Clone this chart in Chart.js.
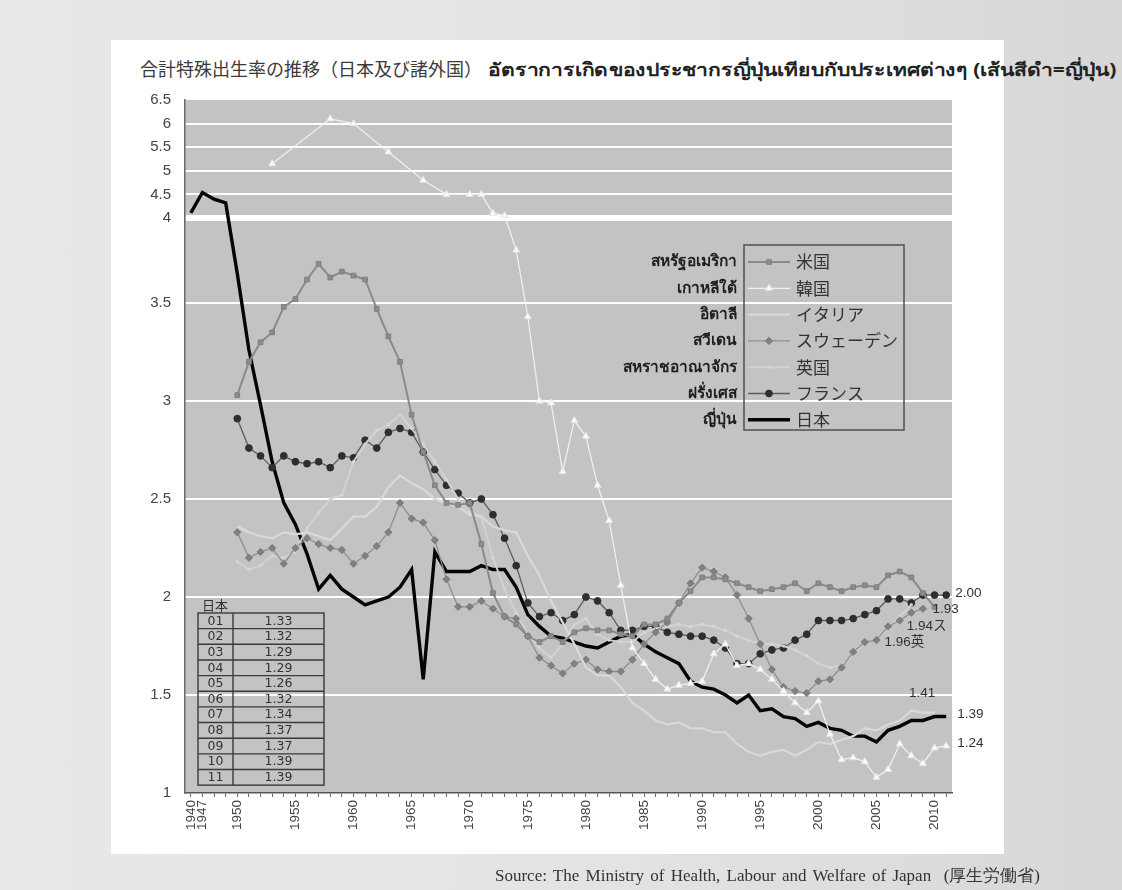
<!DOCTYPE html>
<html lang="ja">
<head>
<meta charset="utf-8">
<title>合計特殊出生率の推移（日本及び諸外国）</title>
<script src="https://cdn.jsdelivr.net/npm/chart.js@4.4.1/dist/chart.umd.min.js"></script>
<style>
  html, body { margin: 0; padding: 0; }
  body {
    width: 1122px; height: 890px; overflow: hidden; position: relative;
    background: linear-gradient(90deg, #e8e8e8 0%, #e3e3e3 55%, #d7d7d7 100%);
    font-family: "Liberation Sans", "Noto Sans", sans-serif;
  }
  .panel { position: absolute; left: 111px; top: 40px; width: 893px; height: 814px; background: #fff; }
  .title { position: absolute; left: 140px; top: 56px; white-space: nowrap; line-height: 24px; }
  .title .ja { font-family: "Noto Sans CJK JP", sans-serif; font-size: 18px; color: #3a3a3a; }
  .title .th { display: inline-block; font-family: "Noto Sans", "DejaVu Sans", sans-serif; font-size: 18px;
    font-weight: bold; color: #222; margin-left: 6px; transform: scaleX(1.17); transform-origin: left center; }
  .source { position: absolute; left: 495px; top: 864px; white-space: nowrap; word-spacing: 2px;
    font-family: "Liberation Serif", serif; font-size: 17px; color: #333; }
  canvas { position: absolute; left: 0; top: 0; }
</style>
</head>
<body>
<div class="panel"></div>
<div class="title"><span class="ja">合計特殊出生率の推移（日本及び諸外国）</span><span class="th">อัตราการเกิดของประชากรญี่ปุ่นเทียบกับประเทศต่างๆ (เส้นสีดำ=ญี่ปุ่น)</span></div>
<canvas id="tfr" width="1122" height="890"></canvas>
<div class="source">Source: The Ministry of Health, Labour and Welfare of Japan &nbsp;(厚生労働省)</div>

<script>
'use strict';

// ---- data ------------------------------------------------------------------

const years = [
  '1940', '1947', '1948', '1949',
  '1950', '1951', '1952', '1953', '1954', '1955', '1956', '1957', '1958', '1959',
  '1960', '1961', '1962', '1963', '1964', '1965', '1966', '1967', '1968', '1969',
  '1970', '1971', '1972', '1973', '1974', '1975', '1976', '1977', '1978', '1979',
  '1980', '1981', '1982', '1983', '1984', '1985', '1986', '1987', '1988', '1989',
  '1990', '1991', '1992', '1993', '1994', '1995', '1996', '1997', '1998', '1999',
  '2000', '2001', '2002', '2003', '2004', '2005', '2006', '2007', '2008', '2009',
  '2010', '2011',
];
const shownYears = ['1940', '1947', '1950', '1955', '1960', '1965', '1970', '1975',
  '1980', '1985', '1990', '1995', '2000', '2005', '2010'];
const yTicks = [1, 1.5, 2, 2.5, 3, 3.5, 4, 4.5, 5, 5.5, 6, 6.5];

const usa = [null, null, null, null,
  3.03, 3.20, 3.30, 3.35, 3.48, 3.52, 3.62, 3.70, 3.63, 3.66,
  3.64, 3.62, 3.47, 3.33, 3.20, 2.93, 2.74, 2.57, 2.48, 2.47,
  2.48, 2.27, 2.02, 1.90, 1.86, 1.80, 1.77, 1.80, 1.77, 1.82,
  1.84, 1.83, 1.83, 1.81, 1.80, 1.86, 1.86, 1.89, 1.97, 2.03,
  2.10, 2.10, 2.09, 2.07, 2.05, 2.03, 2.04, 2.05, 2.07, 2.03,
  2.07, 2.05, 2.03, 2.05, 2.06, 2.05, 2.11, 2.13, 2.10, 2.02,
  1.95, null];
const korea = [null, null, null, null,
  null, null, null, 5.15, null, null, null, null, 6.10, null,
  6.00, null, null, 5.40, null, null, 4.80, null, 4.50, null,
  4.50, 4.50, 4.10, 4.05, 3.77, 3.43, 3.00, 2.99, 2.64, 2.90,
  2.82, 2.57, 2.39, 2.06, 1.74, 1.66, 1.58, 1.53, 1.55, 1.56,
  1.57, 1.71, 1.76, 1.65, 1.66, 1.63, 1.58, 1.52, 1.46, 1.41,
  1.47, 1.30, 1.17, 1.18, 1.16, 1.08, 1.12, 1.25, 1.19, 1.15,
  1.23, 1.24];
const italy = [null, null, null, null,
  2.36, 2.33, 2.31, 2.30, 2.33, 2.32, 2.33, 2.31, 2.29, 2.35,
  2.41, 2.41, 2.46, 2.56, 2.62, 2.58, 2.55, 2.50, 2.48, 2.46,
  2.42, 2.41, 2.36, 2.34, 2.33, 2.21, 2.11, 1.98, 1.87, 1.76,
  1.64, 1.60, 1.60, 1.54, 1.46, 1.42, 1.37, 1.35, 1.36, 1.33,
  1.33, 1.31, 1.31, 1.25, 1.21, 1.19, 1.21, 1.22, 1.19, 1.22,
  1.26, 1.25, 1.27, 1.29, 1.33, 1.32, 1.35, 1.37, 1.42, 1.41,
  1.41, null];
const sweden = [null, null, null, null,
  2.33, 2.20, 2.23, 2.25, 2.17, 2.25, 2.30, 2.27, 2.25, 2.24,
  2.17, 2.21, 2.26, 2.33, 2.48, 2.40, 2.38, 2.29, 2.09, 1.95,
  1.95, 1.98, 1.94, 1.90, 1.89, 1.80, 1.69, 1.65, 1.61, 1.66,
  1.68, 1.63, 1.62, 1.62, 1.68, 1.76, 1.82, 1.87, 1.97, 2.07,
  2.15, 2.13, 2.10, 2.01, 1.89, 1.76, 1.63, 1.54, 1.52, 1.51,
  1.57, 1.58, 1.64, 1.72, 1.77, 1.78, 1.85, 1.88, 1.92, 1.94,
  null, null];
const uk = [null, null, null, null,
  2.18, 2.14, 2.16, 2.21, 2.20, 2.23, 2.35, 2.43, 2.50, 2.52,
  2.69, 2.78, 2.85, 2.88, 2.93, 2.86, 2.78, 2.69, 2.60, 2.50,
  2.43, 2.41, 2.20, 2.04, 1.92, 1.81, 1.74, 1.69, 1.76, 1.86,
  1.89, 1.81, 1.78, 1.77, 1.77, 1.82, 1.84, 1.85, 1.86, 1.85,
  1.86, 1.85, 1.83, 1.80, 1.78, 1.76, 1.76, 1.75, 1.73, 1.70,
  1.66, 1.64, 1.65, 1.71, 1.77, 1.78, 1.84, 1.90, 1.96, null,
  null, null];
const france = [null, null, null, null,
  2.91, 2.76, 2.72, 2.66, 2.72, 2.69, 2.68, 2.69, 2.66, 2.72,
  2.71, 2.80, 2.76, 2.84, 2.86, 2.84, 2.74, 2.65, 2.57, 2.53,
  2.48, 2.50, 2.42, 2.30, 2.16, 1.97, 1.90, 1.92, 1.88, 1.91,
  2.00, 1.98, 1.92, 1.83, 1.83, 1.85, 1.85, 1.82, 1.81, 1.80,
  1.80, 1.78, 1.74, 1.66, 1.66, 1.71, 1.73, 1.74, 1.78, 1.81,
  1.88, 1.88, 1.88, 1.89, 1.91, 1.93, 1.99, 1.99, 1.97, 2.01,
  2.01, 2.01];
const japan = [4.11, 4.54, 4.40, 4.32,
  3.65, 3.26, 2.98, 2.69, 2.48, 2.37, 2.22, 2.04, 2.11, 2.04,
  2.00, 1.96, 1.98, 2.00, 2.05, 2.14, 1.58, 2.23, 2.13, 2.13,
  2.13, 2.16, 2.14, 2.14, 2.05, 1.91, 1.85, 1.80, 1.79, 1.77,
  1.75, 1.74, 1.77, 1.80, 1.81, 1.76, 1.72, 1.69, 1.66, 1.57,
  1.54, 1.53, 1.50, 1.46, 1.50, 1.42, 1.43, 1.39, 1.38, 1.34,
  1.36, 1.33, 1.32, 1.29, 1.29, 1.26, 1.32, 1.34, 1.37, 1.37,
  1.39, 1.39];

const seriesNames = ['米国', '韓国', 'イタリア', 'スウェーデン', '英国', 'フランス', '日本'];
const seriesThai = ['สหรัฐอเมริกา', 'เกาหลีใต้', 'อิตาลี', 'สวีเดน', 'สหราชอาณาจักร', 'ฝรั่งเศส', 'ญี่ปุ่น'];

// small table of recent Japanese values (bottom-left box)
const tableTitle = '日本';
const tableYears = ['01', '02', '03', '04', '05', '06', '07', '08', '09', '10', '11'];
const tableValues = ['1.33', '1.32', '1.29', '1.29', '1.26', '1.32', '1.34', '1.37', '1.37', '1.39', '1.39'];

// value notes near the right end; anchored on (year, value) + a small x shift
const endNotes = [
  { text: '2.00', year: '2011', value: 2.02, dx: 9 },
  { text: '1.93', year: '2010', value: 1.935, dx: -2 },
  { text: '1.94ス', year: '2007', value: 1.85, dx: 7 },
  { text: '1.96英', year: '2005', value: 1.77, dx: 8 },
  { text: '1.41', year: '2009', value: 1.51, dx: -14 },
  { text: '1.39', year: '2011', value: 1.40, dx: 11 },
  { text: '1.24', year: '2011', value: 1.255, dx: 11 },
];

// ---- broken value axis -----------------------------------------------------
// 1..4 uses most of the height, 4..6.5 is squeezed into the top band.

const LOWER_PER_UNIT = 196 / 693;
const UPPER_BASE = 575 / 693;
const UPPER_PER_UNIT = 47.2 / 693;

function axisFraction(v) {
  if (v < 3.95) return (v - 1) * LOWER_PER_UNIT;
  return UPPER_BASE + (v - 4) * UPPER_PER_UNIT;
}

function fractionToValue(f) {
  if (f < UPPER_BASE) return 1 + f / LOWER_PER_UNIT;
  return 4 + (f - UPPER_BASE) / UPPER_PER_UNIT;
}

class BrokenLinearScale extends Chart.LinearScale {
  getPixelForValue(value) {
    if (value === null || value === undefined || isNaN(value)) return NaN;
    return this.getPixelForDecimal(axisFraction(value));
  }
  getValueForPixel(pixel) {
    return fractionToValue(this.getDecimalForPixel(pixel));
  }
}
BrokenLinearScale.id = 'brokenLinear';
BrokenLinearScale.defaults = { ...Chart.LinearScale.defaults };
Chart.register(BrokenLinearScale);

// ---- styles ----------------------------------------------------------------

const PLOT_BG = '#c3c3c3';
const LEGEND = { left: 744, top: 245, width: 160, height: 185, firstRow: 262, rowGap: 26.3 };
const TABLE = { left: 198, top: 613, right: 324, split: 233, rowH: 15.65 };

/**
 * Build one line dataset.
 * @param {string} label
 * @param {Array<number|null>} data
 * @param {Object} style
 * @returns {Object}
 */
function lineSet(label, data, style) {
  return {
    label,
    data,
    tension: 0,
    spanGaps: true,
    borderColor: style.line,
    borderWidth: style.width,
    pointStyle: style.point || 'circle',
    pointRadius: style.radius || 0,
    pointBackgroundColor: style.fill || style.line,
    pointBorderColor: style.edge || style.fill || style.line,
    pointBorderWidth: 1,
    pointHoverRadius: 0,
  };
}

const datasets = [
  lineSet(seriesNames[0], usa, { line: '#8a8a8a', width: 2, point: 'rect', radius: 3.3, fill: '#8c8c8c', edge: '#7e7e7e' }),
  lineSet(seriesNames[1], korea, { line: '#f2f2f2', width: 1.2, point: 'triangle', radius: 4, fill: '#fbfbfb', edge: '#e6e6e6' }),
  lineSet(seriesNames[2], italy, { line: '#d9d9d9', width: 2.2 }),
  lineSet(seriesNames[3], sweden, { line: '#8f8f8f', width: 1.3, point: 'rectRot', radius: 3.6, fill: '#808080', edge: '#7a7a7a' }),
  lineSet(seriesNames[4], uk, { line: '#d2d2d2', width: 2, point: 'rect', radius: 1.4, fill: '#d6d6d6' }),
  lineSet(seriesNames[5], france, { line: '#5c5c5c', width: 1.3, point: 'circle', radius: 3.4, fill: '#2e2e2e', edge: '#2e2e2e' }),
  lineSet(seriesNames[6], japan, { line: '#050505', width: 3.4 }),
];

// ---- overlay drawing -------------------------------------------------------

const overlays = {
  id: 'overlays',
  beforeDraw(chart) {
    const { ctx, chartArea: a } = chart;
    ctx.save();
    ctx.fillStyle = PLOT_BG;
    ctx.fillRect(a.left, a.top, a.right - a.left, a.bottom - a.top);
    ctx.restore();
  },
  afterDraw(chart) {
    const ctx = chart.ctx;
    ctx.save();
    drawLegend(chart, ctx);
    drawTable(ctx);
    drawNotes(chart, ctx);
    ctx.restore();
  },
};

function drawLegend(chart, ctx) {
  ctx.strokeStyle = '#505050';
  ctx.lineWidth = 1.5;
  ctx.strokeRect(LEGEND.left, LEGEND.top, LEGEND.width, LEGEND.height);
  ctx.textBaseline = 'middle';
  chart.data.datasets.forEach((ds, i) => {
    const y = LEGEND.firstRow + i * LEGEND.rowGap;
    ctx.strokeStyle = ds.borderColor;
    ctx.lineWidth = ds.borderWidth;
    ctx.beginPath();
    ctx.moveTo(LEGEND.left + 4, y);
    ctx.lineTo(LEGEND.left + 46, y);
    ctx.stroke();
    if (ds.pointRadius > 0) {
      ctx.fillStyle = ds.pointBackgroundColor;
      ctx.strokeStyle = ds.pointBorderColor;
      ctx.lineWidth = 1;
      Chart.helpers.drawPoint(ctx, { pointStyle: ds.pointStyle, radius: ds.pointRadius, rotation: 0, borderWidth: 1 }, LEGEND.left + 25, y);
    }
    ctx.fillStyle = '#333';
    ctx.textAlign = 'left';
    ctx.font = '17px "Noto Sans CJK JP", sans-serif';
    ctx.fillText(seriesNames[i], LEGEND.left + 52, y);
    ctx.fillStyle = '#1e1e1e';
    ctx.textAlign = 'right';
    ctx.font = 'bold 15.5px "Noto Sans", "DejaVu Sans", sans-serif';
    ctx.fillText(seriesThai[i], LEGEND.left - 7, y);
  });
}

function drawTable(ctx) {
  const rows = tableYears.length;
  const bottom = TABLE.top + rows * TABLE.rowH;
  ctx.fillStyle = '#333';
  ctx.font = '13px "Noto Sans CJK JP", sans-serif';
  ctx.textAlign = 'left';
  ctx.textBaseline = 'middle';
  ctx.fillText(tableTitle, TABLE.left + 4, TABLE.top - 8);
  ctx.strokeStyle = '#3a3a3a';
  ctx.lineWidth = 1.4;
  ctx.strokeRect(TABLE.left, TABLE.top, TABLE.right - TABLE.left, bottom - TABLE.top);
  ctx.beginPath();
  ctx.moveTo(TABLE.split, TABLE.top);
  ctx.lineTo(TABLE.split, bottom);
  for (let r = 1; r < rows; r++) {
    const y = TABLE.top + r * TABLE.rowH;
    ctx.moveTo(TABLE.left, y);
    ctx.lineTo(TABLE.right, y);
  }
  ctx.stroke();
  ctx.font = '12.5px "DejaVu Sans", sans-serif';
  ctx.textAlign = 'center';
  tableYears.forEach((yr, r) => {
    const y = TABLE.top + (r + 0.5) * TABLE.rowH + 0.5;
    ctx.fillText(yr, (TABLE.left + TABLE.split) / 2, y);
    ctx.fillText(tableValues[r], (TABLE.split + TABLE.right) / 2, y);
  });
}

function drawNotes(chart, ctx) {
  const xs = chart.scales.x;
  const ys = chart.scales.y;
  ctx.fillStyle = '#333';
  ctx.font = '13.5px "Liberation Sans", "Noto Sans CJK JP", sans-serif';
  ctx.textAlign = 'left';
  ctx.textBaseline = 'middle';
  endNotes.forEach(n => {
    const x = xs.getPixelForValue(years.indexOf(n.year)) + n.dx;
    ctx.fillText(n.text, x, ys.getPixelForValue(n.value));
  });
}

// ---- chart -----------------------------------------------------------------

Chart.defaults.font.family = '"Liberation Sans", Arial, sans-serif';

new Chart(document.getElementById('tfr'), {
  type: 'line',
  data: { labels: years, datasets },
  plugins: [overlays],
  options: {
    responsive: false,
    animation: false,
    events: [],
    layout: { padding: { left: 0, top: 100, right: 170, bottom: 0 } },
    plugins: { legend: { display: false }, tooltip: { enabled: false } },
    scales: {
      x: {
        type: 'category',
        offset: true,
        grid: { drawOnChartArea: false, offset: false, tickLength: 4, color: '#666', lineWidth: 1 },
        border: { color: '#555', width: 1.5 },
        ticks: {
          autoSkip: false,
          minRotation: 90,
          maxRotation: 90,
          padding: 3,
          color: '#444',
          font: { size: 13.5 },
          callback(value) {
            const label = this.getLabelForValue(value);
            return shownYears.includes(label) ? label : '';
          },
        },
        afterFit(scale) { scale.height = 97; },
      },
      y: {
        type: 'brokenLinear',
        min: 1,
        max: 6.5,
        afterBuildTicks(scale) { scale.ticks = yTicks.map(v => ({ value: v })); },
        grid: {
          drawTicks: false,
          color: ctx => (ctx.tick && (ctx.tick.value === 1 || ctx.tick.value === 6.5)) ? 'rgba(0,0,0,0)' : '#ffffff',
          lineWidth: ctx => (ctx.tick && ctx.tick.value === 4) ? 6 : 2,
        },
        border: { display: true, color: '#6a6a6a', width: 1.5 },
        ticks: {
          padding: 14,
          color: '#444',
          font: { size: 15 },
          callback: v => String(v),
        },
        afterFit(scale) { scale.width = 185; },
      },
    },
  },
});
</script>
</body>
</html>
